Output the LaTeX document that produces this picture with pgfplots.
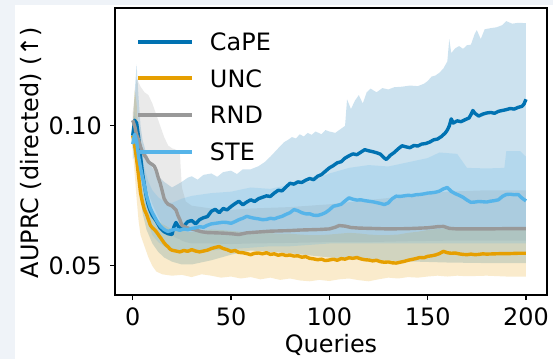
\documentclass[border=0pt]{standalone}
\usepackage{fontspec}
\setmainfont{DejaVu Sans}
\usepackage{pgfplots}
\usepackage{pgfplotstable}
\pgfplotsset{compat=1.18}
\definecolor{cape}{HTML}{0072B2}
\definecolor{unc}{HTML}{E69F00}
\definecolor{rnd}{HTML}{999999}
\definecolor{ste}{HTML}{56B4E9}
\definecolor{pagebg}{HTML}{EFF3F8}

\pgfplotstableread{
q y
0 0.0965
1 0.1020
2 0.1010
3 0.0960
4 0.0890
5 0.0830
6 0.0785
7 0.0745
8 0.0715
9 0.0695
10 0.0680
12 0.0660
14 0.0635
16 0.0622
18 0.0615
20 0.0612
21 0.0640
22 0.0655
24 0.0632
26 0.0642
28 0.0658
30 0.0662
32 0.0650
34 0.0665
36 0.0672
38 0.0676
40 0.0695
42 0.0702
44 0.0690
46 0.0705
48 0.0700
50 0.0712
52 0.0722
54 0.0731
56 0.0718
58 0.0728
60 0.0736
62 0.0730
64 0.0740
66 0.0745
68 0.0750
70 0.0748
72 0.0760
74 0.0770
76 0.0768
78 0.0782
80 0.0795
82 0.0792
84 0.0800
86 0.0798
88 0.0806
90 0.0812
92 0.0808
94 0.0820
96 0.0826
98 0.0838
100 0.0850
102 0.0858
104 0.0868
106 0.0872
108 0.0885
110 0.0893
112 0.0900
114 0.0897
116 0.0906
118 0.0915
120 0.0911
122 0.0908
124 0.0904
126 0.0899
128 0.0885
129 0.0880
131 0.0895
133 0.0905
135 0.0918
137 0.0929
139 0.0925
141 0.0922
143 0.0930
145 0.0928
147 0.0935
149 0.0937
151 0.0942
153 0.0950
155 0.0953
157 0.0962
159 0.0975
160 0.0985
161 0.1000
162 0.1025
163 0.1010
165 0.1018
167 0.1015
169 0.1022
171 0.1028
172 0.1040
173 0.1055
174 0.1045
176 0.1035
178 0.1042
180 0.1046
182 0.1048
184 0.1045
186 0.1052
188 0.1055
190 0.1058
192 0.1062
194 0.1060
196 0.1066
198 0.1070
199 0.1078
200 0.1095
}\capemean

\pgfplotstableread{
q y
0 0.0965
1 0.0930
2 0.0880
3 0.0820
4 0.0760
5 0.0725
6 0.0700
7 0.0685
8 0.0665
9 0.0645
10 0.0636
11 0.0630
12 0.0622
13 0.0612
14 0.0602
15 0.0592
16 0.0582
17 0.0574
18 0.0568
19 0.0560
20 0.0556
22 0.0553
24 0.0550
26 0.0555
28 0.0552
30 0.0558
32 0.0553
34 0.0550
36 0.0553
38 0.0556
40 0.0562
42 0.0566
44 0.0569
46 0.0562
48 0.0558
50 0.0552
52 0.0555
54 0.0548
56 0.0547
58 0.0544
60 0.0540
62 0.0545
64 0.0546
66 0.0543
68 0.0547
70 0.0541
72 0.0543
74 0.0538
76 0.0541
78 0.0537
80 0.0539
82 0.0535
84 0.0536
86 0.0531
88 0.0533
90 0.0527
92 0.0525
94 0.0522
96 0.0524
98 0.0519
100 0.0521
102 0.0524
104 0.0520
106 0.0526
108 0.0524
110 0.0529
112 0.0527
114 0.0530
116 0.0525
118 0.0522
120 0.0521
122 0.0518
124 0.0520
126 0.0515
128 0.0513
130 0.0514
132 0.0511
134 0.0510
136 0.0513
138 0.0516
140 0.0520
142 0.0523
144 0.0526
146 0.0530
148 0.0529
150 0.0534
152 0.0536
154 0.0539
156 0.0544
158 0.0552
160 0.0547
162 0.0545
164 0.0546
166 0.0543
168 0.0541
170 0.0540
172 0.0542
174 0.0540
176 0.0541
178 0.0543
180 0.0542
184 0.0543
188 0.0544
192 0.0544
196 0.0545
200 0.0545
}\uncmean

\pgfplotstableread{
q y
0 0.1020
1 0.1000
2 0.0968
3 0.0950
4 0.0925
5 0.0906
6 0.0895
7 0.0885
8 0.0872
9 0.0866
10 0.0862
11 0.0856
12 0.0840
13 0.0815
14 0.0795
15 0.0768
16 0.0740
17 0.0728
18 0.0720
20 0.0714
22 0.0700
23 0.0680
24 0.0665
25 0.0645
27 0.0638
29 0.0633
31 0.0630
33 0.0626
35 0.0622
38 0.0619
42 0.0618
46 0.0617
50 0.0615
54 0.0612
58 0.0618
62 0.0620
66 0.0622
70 0.0624
75 0.0625
80 0.0626
85 0.0628
90 0.0629
95 0.0630
100 0.0632
103 0.0638
105 0.0644
108 0.0642
111 0.0637
115 0.0635
120 0.0634
130 0.0632
140 0.0633
150 0.0636
155 0.0640
158 0.0641
161 0.0634
165 0.0632
170 0.0632
180 0.0632
190 0.0633
200 0.0633
}\rndmean

\pgfplotstableread{
q y
0 0.0935
1 0.0970
2 0.0945
3 0.0890
4 0.0850
5 0.0815
6 0.0785
7 0.0752
8 0.0727
9 0.0705
10 0.0690
11 0.0677
12 0.0664
13 0.0652
14 0.0643
15 0.0636
16 0.0630
17 0.0626
18 0.0623
20 0.0628
22 0.0631
24 0.0627
26 0.0632
28 0.0629
30 0.0634
32 0.0636
34 0.0640
36 0.0638
38 0.0645
40 0.0650
42 0.0652
44 0.0654
46 0.0656
48 0.0655
50 0.0652
52 0.0658
54 0.0665
56 0.0670
58 0.0677
60 0.0673
62 0.0670
64 0.0668
66 0.0665
68 0.0666
70 0.0670
72 0.0668
74 0.0673
76 0.0677
78 0.0684
80 0.0690
82 0.0701
84 0.0697
86 0.0690
88 0.0686
90 0.0686
92 0.0681
94 0.0680
96 0.0684
98 0.0690
100 0.0700
102 0.0713
104 0.0716
106 0.0720
108 0.0732
110 0.0743
112 0.0738
114 0.0735
116 0.0736
118 0.0733
120 0.0731
122 0.0729
124 0.0726
126 0.0723
128 0.0719
130 0.0725
132 0.0740
134 0.0749
136 0.0748
138 0.0750
140 0.0752
142 0.0751
144 0.0754
146 0.0755
148 0.0757
150 0.0760
152 0.0761
154 0.0763
156 0.0767
158 0.0775
160 0.0780
162 0.0766
164 0.0758
166 0.0752
168 0.0745
170 0.0735
172 0.0727
174 0.0728
176 0.0730
178 0.0729
180 0.0728
182 0.0731
184 0.0733
186 0.0736
188 0.0748
190 0.0755
192 0.0756
194 0.0754
196 0.0755
198 0.0742
200 0.0732
}\stemean

% bands: upper edge left to right, then lower edge right to left
\pgfplotstableread{
q y
0 0.1000
1 0.1120
2 0.1220
3 0.1100
4 0.1000
5 0.0950
7 0.0900
10 0.0850
13 0.0820
16 0.0800
20 0.0780
25 0.0800
28 0.0815
30 0.0820
33 0.0808
36 0.0825
40 0.0830
43 0.0818
46 0.0835
50 0.0840
53 0.0828
56 0.0845
60 0.0845
64 0.0856
67 0.0870
70 0.0890
72 0.0905
74 0.0920
77 0.0942
79 0.0950
81 0.0960
83 0.0955
85 0.0970
87 0.0962
89 0.0975
91 0.0968
93 0.0980
96 0.0970
98 0.0985
100 0.0980
103 0.0975
106 0.0990
108 0.1000
109 0.1095
111 0.1060
113 0.1090
115 0.1110
117 0.1080
119 0.1120
121 0.1133
124 0.1120
127 0.1135
130 0.1130
133 0.1138
137 0.1140
141 0.1144
145 0.1142
148 0.1150
150 0.1160
152 0.1176
154 0.1180
156 0.1190
158 0.1205
160 0.1230
161 0.1310
162 0.1260
164 0.1277
166 0.1285
168 0.1275
170 0.1288
172 0.1290
174 0.1330
175 0.1342
177 0.1310
179 0.1345
182 0.1349
185 0.1352
188 0.1360
190 0.1374
193 0.1365
196 0.1368
200 0.1367
200 0.0510
180 0.0510
160 0.0512
140 0.0516
120 0.0522
100 0.0530
80 0.0545
60 0.0555
50 0.0540
40 0.0520
30 0.0505
25 0.0505
20 0.0515
16 0.0530
13 0.0550
10 0.0580
7 0.0630
5 0.0690
4 0.0750
3 0.0820
2 0.0900
1 0.0930
0 0.0920
}\capeband

\pgfplotstableread{
q y
0 0.1000
1 0.1130
2 0.1080
3 0.0950
4 0.0860
6 0.0770
8 0.0720
10 0.0690
12 0.0670
15 0.0650
20 0.0630
25 0.0625
30 0.0620
35 0.0625
40 0.0630
45 0.0628
50 0.0625
55 0.0622
60 0.0620
65 0.0618
70 0.0617
75 0.0615
80 0.0615
85 0.0612
90 0.0610
95 0.0610
100 0.0612
105 0.0615
110 0.0618
115 0.0616
120 0.0612
125 0.0610
130 0.0610
135 0.0612
140 0.0618
145 0.0622
150 0.0628
155 0.0632
160 0.0635
165 0.0633
170 0.0632
180 0.0632
190 0.0632
200 0.0632
200 0.0462
190 0.0462
180 0.0465
170 0.0463
165 0.0465
160 0.0462
155 0.0465
150 0.0462
145 0.0458
140 0.0460
135 0.0455
130 0.0458
125 0.0452
120 0.0445
115 0.0449
110 0.0455
105 0.0452
100 0.0446
95 0.0450
90 0.0445
85 0.0448
80 0.0455
75 0.0450
70 0.0458
65 0.0452
60 0.0460
55 0.0455
50 0.0462
45 0.0458
40 0.0465
35 0.0470
30 0.0460
25 0.0468
20 0.0465
15 0.0470
12 0.0480
10 0.0500
8 0.0530
6 0.0570
4 0.0610
3 0.0660
2 0.0740
1 0.0830
0 0.0920
}\uncband

\pgfplotstableread{
q y
0 0.1050
1 0.1100
2 0.1170
4 0.1140
6 0.1120
8 0.1110
10 0.1080
12 0.1040
14 0.1000
16 0.0960
18 0.0930
20 0.0920
22 0.0915
24 0.0900
25 0.0780
27 0.0730
30 0.0715
40 0.0705
50 0.0700
60 0.0705
80 0.0710
100 0.0720
120 0.0735
140 0.0750
160 0.0765
180 0.0770
200 0.0770
200 0.0590
180 0.0590
160 0.0590
140 0.0588
120 0.0585
100 0.0585
80 0.0582
60 0.0580
50 0.0578
40 0.0580
30 0.0580
27 0.0585
25 0.0590
24 0.0595
22 0.0600
20 0.0610
18 0.0620
16 0.0640
14 0.0660
12 0.0690
10 0.0720
8 0.0760
6 0.0800
4 0.0840
2 0.0900
1 0.0950
0 0.0980
}\rndband

\pgfplotstableread{
q y
0 0.0980
1 0.1050
2 0.1000
3 0.0960
4 0.0920
6 0.0850
8 0.0800
10 0.0770
13 0.0745
16 0.0730
20 0.0725
25 0.0740
30 0.0750
40 0.0760
50 0.0765
60 0.0780
70 0.0775
80 0.0790
90 0.0800
100 0.0830
110 0.0850
120 0.0860
130 0.0855
140 0.0870
150 0.0885
156 0.0905
165 0.0900
170 0.0850
180 0.0848
189 0.0850
190 0.0910
197 0.0910
200 0.0890
200 0.0580
150 0.0580
100 0.0580
90 0.0575
80 0.0570
70 0.0570
60 0.0565
50 0.0560
40 0.0555
30 0.0555
20 0.0555
16 0.0570
13 0.0585
10 0.0610
8 0.0650
6 0.0700
4 0.0770
3 0.0820
2 0.0880
1 0.0890
0 0.0880
}\steband

\begin{document}
\begin{tikzpicture}[x=1bp,y=1bp]
\useasboundingbox (0,0) rectangle (553,359);
\fill[pagebg] (0,0) rectangle (553,359);
\fill[white] (15,0) rectangle (553,354);
\begin{axis}[
  at={(115bp,64bp)}, anchor=south west,
  scale only axis, width=432bp, height=287bp,
  xmin=-9, xmax=210.7, ymin=0.0396, ymax=0.1421,
  xtick={0,50,100,150,200}, ytick={0.05,0.10},
  /pgf/number format/assume math mode=true,
  tick align=outside, tick pos=left, major tick length=5bp,
  every tick/.style={black, line width=1.1bp},
  axis line style={black, line width=1.3bp},
  font=\fontsize{24}{28}\selectfont,
  xticklabel style={inner sep=0pt, text height=17.5bp, text depth=0pt, anchor=north, yshift=-8bp},
  yticklabel style={inner sep=0pt, text height=17.5bp, text depth=0pt, anchor=east, xshift=-8bp,
    /pgf/number format/fixed, /pgf/number format/fixed zerofill, /pgf/number format/precision=2},
  xlabel={Queries}, ylabel={AUPRC (directed) (↑)},
  xlabel style={at={(axis description cs:0.5,-0.1986)}, anchor=base, inner sep=0pt},
  ylabel style={at={(axis description cs:-0.1944,0.4965)}, anchor=center, inner sep=0pt},
  legend cell align=left,
  legend image code/.code={\draw[line width=3.8bp] (0bp,0bp) -- (54bp,0bp);},
  legend style={at={(0.0486,0.9138)}, anchor=north west, draw=none, fill=none,
    inner sep=0pt, row sep=19.2bp, column sep=16bp,
    nodes={inner sep=0pt, text height=17.5bp, text depth=0pt},
    font=\fontsize{24}{28}\selectfont},
]
% bands
\addplot[fill=cape, fill opacity=0.2, draw=none, forget plot] table[x=q,y=y]{\capeband} -- cycle;
\addplot[fill=unc, fill opacity=0.2, draw=none, forget plot] table[x=q,y=y]{\uncband} -- cycle;
\addplot[fill=rnd, fill opacity=0.2, draw=none, forget plot] table[x=q,y=y]{\rndband} -- cycle;
\addplot[fill=ste, fill opacity=0.2, draw=none, forget plot] table[x=q,y=y]{\steband} -- cycle;
% means
\addplot[cape, line width=3.4bp, line join=round, no markers] table[x=q,y=y]{\capemean};
\addplot[unc, line width=3.4bp, line join=round, no markers] table[x=q,y=y]{\uncmean};
\addplot[rnd, line width=3.4bp, line join=round, no markers] table[x=q,y=y]{\rndmean};
\addplot[ste, line width=3.4bp, line join=round, no markers] table[x=q,y=y]{\stemean};
\legend{CaPE, UNC, RND, STE}
\end{axis}
\end{tikzpicture}
\end{document}
